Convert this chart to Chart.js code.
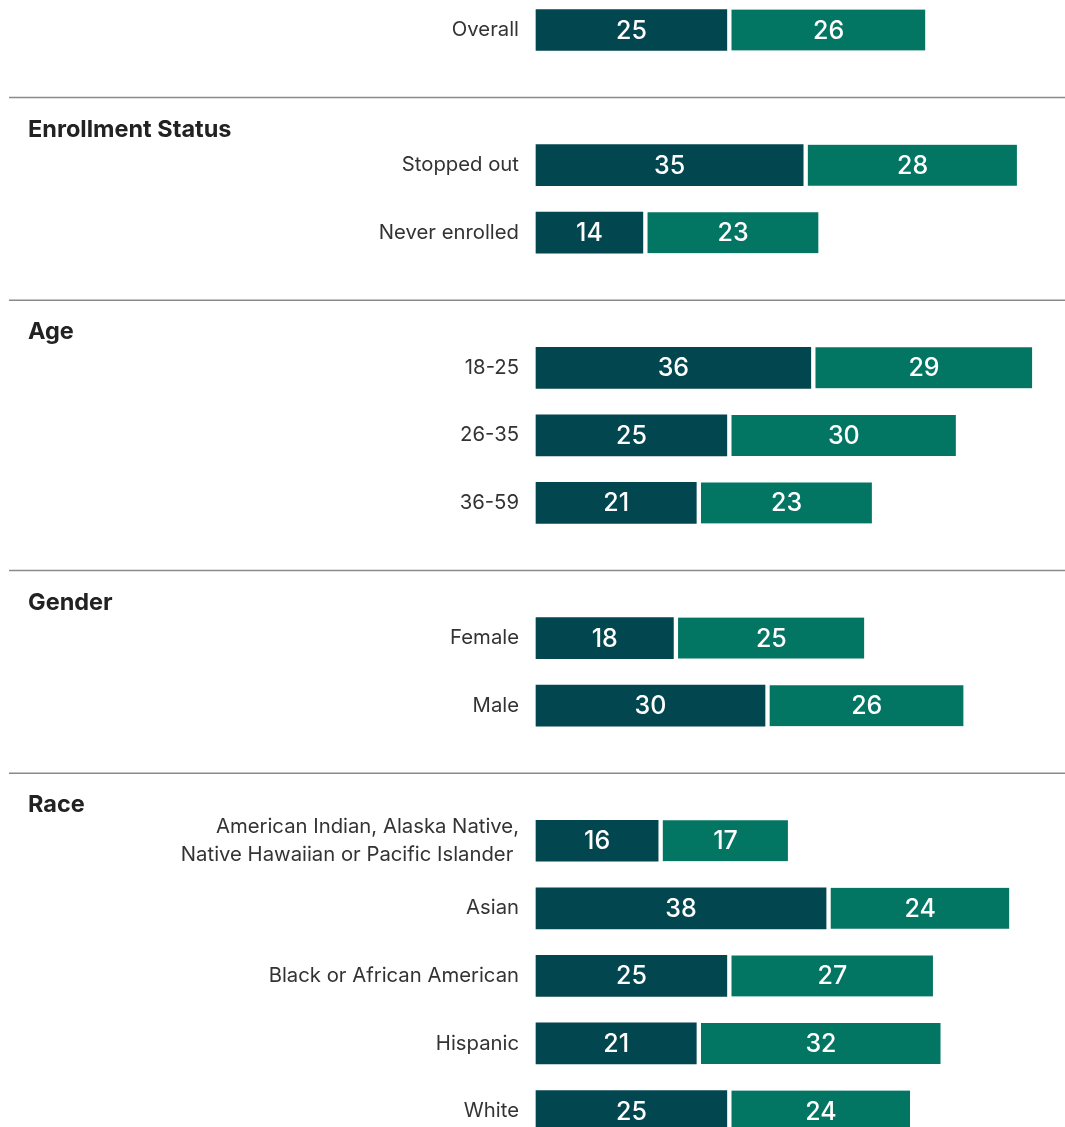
<!DOCTYPE html>
<html>
<head>
<meta charset="utf-8">
<script src="https://cdn.jsdelivr.net/npm/chart.js@4/dist/chart.umd.min.js"></script>
<style>
  html, body { margin: 0; padding: 0; background: #fff; }
  #wrap { width: 1065px; height: 1127px; position: relative; }
</style>
</head>
<body>
<div id="wrap"><canvas id="c"></canvas></div>
<script>
const categories = [
  "Overall", "",
  "Stopped out", "Never enrolled", "",
  "18-25", "26-35", "36-59", "",
  "Female", "Male", "",
  ["American Indian, Alaska Native,", "Native Hawaiian or Pacific Islander "],
  "Asian", "Black or African American", "Hispanic", "White"
];
const seriesA = [25, null, 35, 14, null, 36, 25, 21, null, 18, 30, null, 16, 38, 25, 21, 25];
const seriesB = [26, null, 28, 23, null, 29, 30, 23, null, 25, 26, null, 17, 24, 27, 32, 24];
const groupHeadings = ["Enrollment Status", "Age", "Gender", "Race"];
const headingSlots = [1, 4, 8, 11];

const FONT = "Inter, 'Noto Sans', sans-serif";

const decorPlugin = {
  id: 'decor',
  afterDatasetsDraw(chart) {
    const ctx = chart.ctx;
    const y = chart.scales.y;
    ctx.save();
    headingSlots.forEach((slot, i) => {
      const py = y.getPixelForValue(slot);
      ctx.strokeStyle = '#8a8a8a';
      ctx.lineWidth = 1.5;
      ctx.beginPath();
      ctx.moveTo(9, py);
      ctx.lineTo(chart.width, py);
      ctx.stroke();
      ctx.fillStyle = '#222';
      ctx.font = "700 23.5px " + FONT;
      ctx.textAlign = 'left';
      ctx.textBaseline = 'middle';
      ctx.fillText(groupHeadings[i], 28, py + 32);
    });
    ctx.fillStyle = '#fff';
    ctx.font = "500 25px " + FONT;
    ctx.textAlign = 'center';
    ctx.textBaseline = 'middle';
    chart.data.datasets.forEach((ds, di) => {
      const meta = chart.getDatasetMeta(di);
      meta.data.forEach((bar, idx) => {
        const v = ds.data[idx];
        if (v === null || v === undefined) return;
        const left = Math.min(bar.x, bar.base) + (di === 1 ? 5 : 0);
        const right = Math.max(bar.x, bar.base);
        ctx.fillText(String(v), (left + right) / 2, bar.y + 1);
      });
    });
    ctx.restore();
  }
};

new Chart(document.getElementById('c'), {
  type: 'bar',
  data: {
    labels: categories,
    datasets: [
      {
        data: seriesA,
        backgroundColor: '#02464f',
        borderWidth: 0,
        barThickness: 41,
        clip: false
      },
      {
        data: seriesB,
        backgroundColor: '#037563',
        borderColor: '#ffffff',
        borderWidth: { left: 5, right: 0, top: 0, bottom: 0 },
        borderSkipped: false,
        barThickness: 41,
        clip: false
      }
    ]
  },
  options: {
    indexAxis: 'y',
    responsive: true,
    maintainAspectRatio: false,
    animation: false,
    layout: { padding: { top: 30, bottom: 16, left: 0, right: 0 } },
    plugins: { legend: { display: false }, tooltip: { enabled: false } },
    scales: {
      x: {
        stacked: true,
        display: false,
        min: 0,
        max: 69.3
      },
      y: {
        stacked: true,
        offset: false,
        grid: { display: false },
        border: { display: false },
        afterFit(scale) {
          scale.width = 536;
          scale.paddingTop = 0;
          scale.paddingBottom = 0;
        },
        ticks: {
          color: '#333',
          padding: 9,
          autoSkip: false,
          font: { family: FONT, size: 20.3, lineHeight: 1.38 }
        }
      }
    }
  },
  plugins: [decorPlugin]
});
</script>
</body>
</html>
